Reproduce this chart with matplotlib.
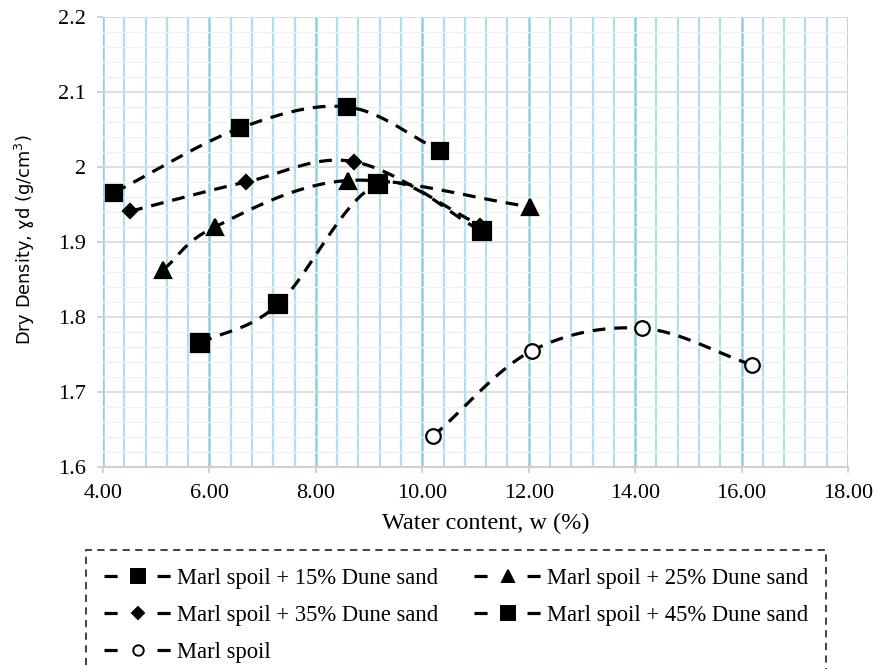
import numpy as np
import matplotlib
matplotlib.use("Agg")
import matplotlib.pyplot as plt
from matplotlib.ticker import MultipleLocator, FormatStrFormatter, FuncFormatter

# ---- data ----
w_15 = [4.21, 6.58, 8.59, 10.33]
d_15 = [1.966, 2.052, 2.080, 2.022]
w_25 = [5.13, 6.10, 8.60, 12.03]
d_25 = [1.863, 1.920, 1.982, 1.947]
w_35 = [4.51, 6.69, 8.72, 11.09]
d_35 = [1.941, 1.980, 2.007, 1.922]
w_45 = [5.82, 7.29, 9.17, 11.12]
d_45 = [1.765, 1.817, 1.977, 1.915]
w_ms = [10.20, 12.06, 14.13, 16.20]
d_ms = [1.641, 1.755, 1.785, 1.736]

labels = ["Marl spoil + 15% Dune sand", "Marl spoil + 25% Dune sand",
          "Marl spoil + 35% Dune sand", "Marl spoil + 45% Dune sand",
          "Marl spoil"]

def smooth(x, y, n=40):
    x = np.asarray(x, float); y = np.asarray(y, float)
    P = np.column_stack([x, y])
    P = np.vstack([2 * P[0] - P[1], P, 2 * P[-1] - P[-2]])
    out = []
    for i in range(1, len(P) - 2):
        p0, p1, p2, p3 = P[i - 1], P[i], P[i + 1], P[i + 2]
        t = np.linspace(0, 1, n)[:, None]
        seg = 0.5 * ((2 * p1) + (-p0 + p2) * t + (2 * p0 - 5 * p1 + 4 * p2 - p3) * t ** 2
                     + (-p0 + 3 * p1 - 3 * p2 + p3) * t ** 3)
        out.append(seg if i == len(P) - 3 else seg[:-1])
    out = np.vstack(out)
    return out[:, 0], out[:, 1]

fig = plt.figure(figsize=(8.86, 6.69), dpi=100)
ax = fig.add_axes([103 / 886, 1 - 467 / 669, 745 / 886, 450 / 669])

ax.set_xlim(4, 18)
ax.set_ylim(1.6, 2.2)
ax.xaxis.set_major_locator(MultipleLocator(2))
ax.xaxis.set_minor_locator(MultipleLocator(0.4))
ax.yaxis.set_major_locator(MultipleLocator(0.1))
ax.yaxis.set_minor_locator(MultipleLocator(0.02))
ax.xaxis.set_major_formatter(FormatStrFormatter("%.2f"))
ax.yaxis.set_major_formatter(FuncFormatter(lambda v, p: "%g" % round(v, 1)))

ax.grid(which="minor", axis="y", color="#f0f0f0", lw=1.0, zorder=0)
ax.grid(which="major", axis="y", color="#d9d9d9", lw=1.2, zorder=0)
ax.grid(which="minor", axis="x", color="#ace0ec", lw=1.6, zorder=0)
ax.grid(which="major", axis="x", color="#8ecde0", lw=1.8, zorder=0)
ax.set_axisbelow(True)

for s in ["top", "right", "left"]:
    ax.spines[s].set_visible(False)
ax.spines["bottom"].set_color("#d0d0d0")
ax.spines["bottom"].set_linewidth(1.5)
ax.tick_params(which="major", axis="both", length=4.5, color="#cccccc", width=1.2,
               labelsize=16, pad=8)
ax.tick_params(which="minor", length=0)
for lab in ax.get_xticklabels() + ax.get_yticklabels():
    lab.set_fontfamily("Liberation Serif")

ax.set_xlabel("Water content, w (%)", fontsize=17.5, family="Liberation Serif")
ax.xaxis.set_label_coords((486 - 103) / 745, -(523 - 467) / 450)
ax.xaxis.label.set_va("center")
ax.set_ylabel("Dry Density, ɣd (g/cm$^3$)", fontsize=12.8, family="DejaVu Sans")
ax.yaxis.set_label_coords(-(103 - 25) / 745, (467 - 240) / 450)
ax.yaxis.label.set_va("center")

dash = (4, 2.8)
lw = 2.3
series = [
    (w_15, d_15, "s", 11, 9.5, "black", 0),
    (w_25, d_25, "^", 12, 8.5, "black", 1),
    (w_35, d_35, "D", 7.5, 6.5, "black", 2),
    (w_45, d_45, "s", 12.5, 9.5, "black", 3),
    (w_ms, d_ms, "o", 10.5, 7.5, "white", 4),
]
handles = []
for x, y, m, ms, lms, fc, i in series:
    sx, sy = smooth(x, y)
    ax.plot(sx, sy, color="black", lw=lw, dashes=dash, zorder=3, dash_capstyle="butt")
    ax.plot(x, y, ls="none", marker=m, ms=ms, mfc=fc, mec="black", mew=1.6, zorder=4)
    h, = ax.plot([], [], color="black", lw=lw, dashes=(4.1, 12.5), marker=m,
                 ms=lms, mfc=fc, mec="black", mew=1.4, label=labels[i])
    handles.append(h)

order = [0, 2, 4, 1, 3]
leg = fig.legend([handles[i] for i in order], [labels[i] for i in order],
                 loc="upper left", bbox_to_anchor=(86 / 886, 1 - 550 / 669),
                 ncol=2, frameon=True, fancybox=False,
                 prop={"family": "Liberation Serif", "size": 16.3},
                 handlelength=3.0, handletextpad=0.22, labelspacing=0.7,
                 borderpad=0.8, columnspacing=1.6, borderaxespad=0.0)
fr = leg.get_frame()
fr.set_edgecolor("black")
fr.set_linestyle((0, (4, 3)))
fr.set_linewidth(1.3)

fig.savefig("out.png", dpi=100)
